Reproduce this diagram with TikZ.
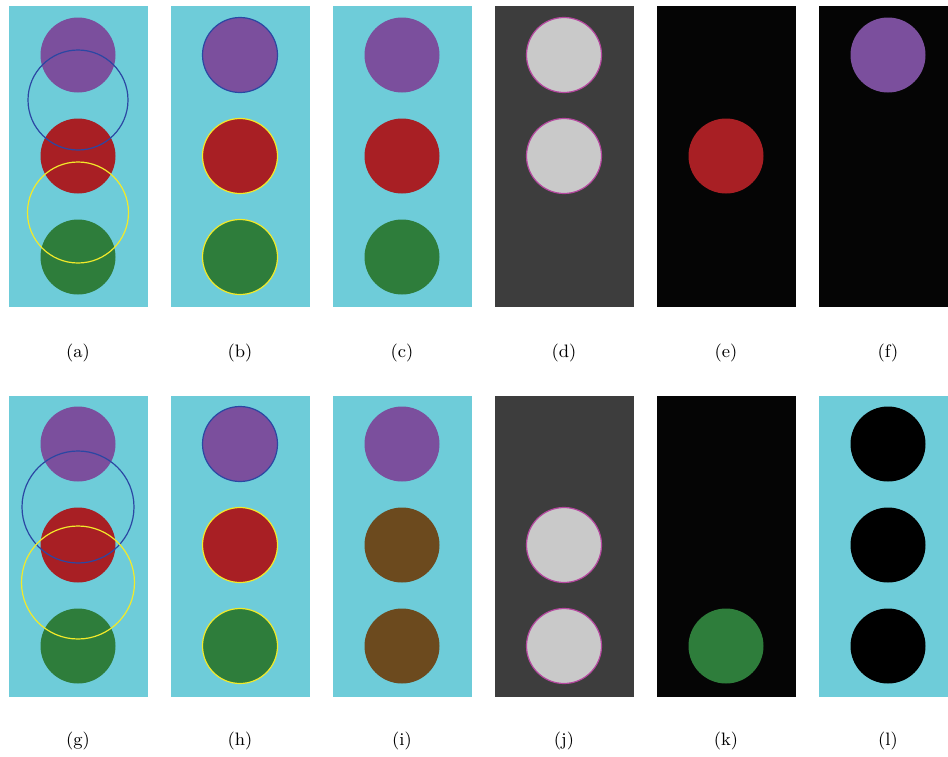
\documentclass[tikz,border=0pt]{standalone}
\usepackage{xcolor}
\definecolor{skybg}{HTML}{6ECCD9}
\definecolor{darkbg}{HTML}{3D3D3D}
\definecolor{nightbg}{HTML}{050505}
\definecolor{lampviolet}{HTML}{7B4F9D}
\definecolor{lampred}{HTML}{A81F24}
\definecolor{lampgreen}{HTML}{2E7D3B}
\definecolor{lampbrown}{HTML}{6C4A1E}
\definecolor{lampgray}{HTML}{C9C9C9}
\definecolor{ringblue}{HTML}{2B47A3}
\definecolor{ringyellow}{HTML}{F2EA2A}
\definecolor{edgepink}{HTML}{B5479F}
\usepackage{tikz}
\usetikzlibrary{positioning}

\begin{document}
\begin{tikzpicture}[
    x=0.5pt, y=-0.5pt,
    font=\fontsize{9}{11}\selectfont,
    panel/.style={draw=none, inner sep=0pt, minimum width=69.5pt,
                  minimum height=150.5pt},
    lamp/.style={circle, draw=none, inner sep=0pt, minimum size=37.5pt},
    lampedge/.style={lamp, draw=#1, line width=0.6pt},
    ring/.style={circle, draw=#1, inner sep=0pt, line width=0.6pt},
    tag/.style={inner sep=0pt}]
  \useasboundingbox (0,0) rectangle (948,756);
  % top row of panels
  \node[panel, fill=skybg]   (pa) at (78.5,156.5)  {};
  \node[panel, fill=skybg]   (pb) at (240.5,156.5) {};
  \node[panel, fill=skybg]   (pc) at (402.5,156.5) {};
  \node[panel, fill=darkbg]  (pd) at (564.5,156.5) {};
  \node[panel, fill=nightbg] (pe) at (726.5,156.5) {};
  \node[panel, fill=nightbg, minimum width=64.5pt] (pf) at (883.5,156.5) {};
  % bottom row of panels
  \node[panel, fill=skybg]   (pg) at (78.5,546)  {};
  \node[panel, fill=skybg]   (ph) at (240.5,546) {};
  \node[panel, fill=skybg]   (pi) at (402.5,546) {};
  \node[panel, fill=darkbg]  (pj) at (564.5,546) {};
  \node[panel, fill=nightbg] (pk) at (726.5,546) {};
  \node[panel, fill=skybg, minimum width=64.5pt] (pl) at (883.5,546) {};

  % (a)
  \node[lamp, fill=lampviolet] (a1) at (78,55)  {};
  \node[lamp, fill=lampred]    (a2) at (78,156) {};
  \node[lamp, fill=lampgreen]  (a3) at (78,257) {};
  \node[ring=ringblue,   minimum size=50pt] (aring1) at (78,100) {};
  \node[ring=ringyellow, minimum size=50.5pt] (aring2) at (78,212.5) {};
  % (b)
  \node[lampedge=ringblue,   fill=lampviolet] (b1) at (240,55)  {};
  \node[lampedge=ringyellow, fill=lampred]    (b2) at (240,156) {};
  \node[lampedge=ringyellow, fill=lampgreen]  (b3) at (240,257) {};
  % (c)
  \node[lamp, fill=lampviolet] (c1) at (402,55)  {};
  \node[lamp, fill=lampred]    (c2) at (402,156) {};
  \node[lamp, fill=lampgreen]  (c3) at (402,257) {};
  % (d)
  \node[lampedge=edgepink, fill=lampgray] (d1) at (564,55)  {};
  \node[lampedge=edgepink, fill=lampgray] (d2) at (564,156) {};
  % (e), (f)
  \node[lamp, fill=lampred]    (e2) at (726,156) {};
  \node[lamp, fill=lampviolet] (f1) at (888,55)  {};

  % (g)
  \node[lamp, fill=lampviolet] (g1) at (78,444) {};
  \node[lamp, fill=lampred]    (g2) at (78,545) {};
  \node[lamp, fill=lampgreen]  (g3) at (78,646) {};
  \node[ring=ringblue,   minimum size=56pt]   (gring1) at (78,507) {};
  \node[ring=ringyellow, minimum size=56.5pt] (gring2) at (78,582.5) {};
  % (h)
  \node[lampedge=ringblue,   fill=lampviolet] (h1) at (240,444) {};
  \node[lampedge=ringyellow, fill=lampred]    (h2) at (240,545) {};
  \node[lampedge=ringyellow, fill=lampgreen]  (h3) at (240,646) {};
  % (i)
  \node[lamp, fill=lampviolet] (i1) at (402,444) {};
  \node[lamp, fill=lampbrown]  (i2) at (402,545) {};
  \node[lamp, fill=lampbrown]  (i3) at (402,646) {};
  % (j)
  \node[lampedge=edgepink, fill=lampgray] (j2) at (564,545) {};
  \node[lampedge=edgepink, fill=lampgray] (j3) at (564,646) {};
  % (k), (l)
  \node[lamp, fill=lampgreen] (k3) at (726,646) {};
  \node[lamp, fill=black] (l1) at (888,444) {};
  \node[lamp, fill=black] (l2) at (888,545) {};
  \node[lamp, fill=black] (l3) at (888,646) {};

  % captions
  \foreach \p/\x in {a/78,b/240,c/402,d/564,e/726,f/888}
    \node[tag] (tag\p) at (\x,353) {(\p)};
  \foreach \p/\x in {g/78,h/240,i/402,j/564,k/726,l/888}
    \node[tag] (tag\p) at (\x,741) {(\p)};
\end{tikzpicture}
\end{document}
